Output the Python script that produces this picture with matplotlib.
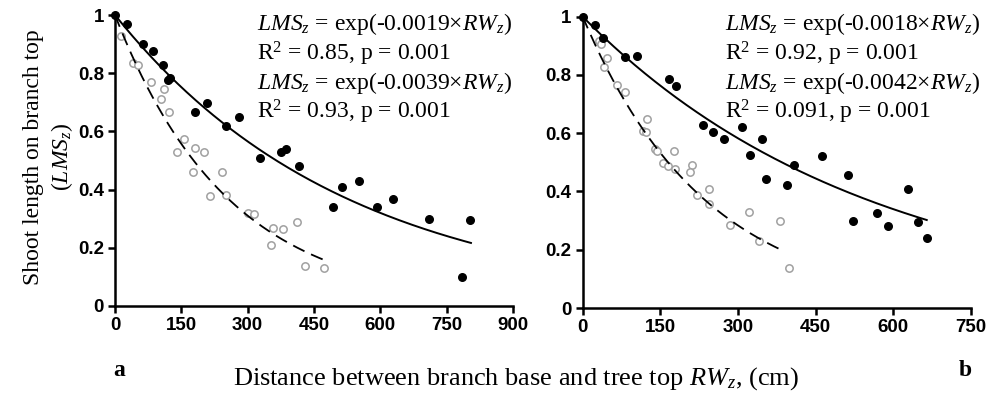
import numpy as np
import matplotlib.pyplot as plt

plt.rcParams['mathtext.fontset'] = 'custom'
plt.rcParams['mathtext.rm'] = 'Liberation Serif'
plt.rcParams['mathtext.it'] = 'Liberation Serif:italic'

# panel a : filled = solid fit, open = dashed fit
a_filled_x = [0, 28, 63, 85, 109, 120, 124, 181, 207, 252, 280, 328, 375, 387, 415,
              492, 513, 551, 593, 629, 709, 803, 784]
a_filled_y = [1.0, 0.968, 0.899, 0.877, 0.828, 0.777, 0.782, 0.668, 0.699, 0.619, 0.648,
              0.507, 0.530, 0.538, 0.481, 0.339, 0.408, 0.430, 0.339, 0.368, 0.298, 0.296, 0.099]
a_open_x = [13, 41, 53, 81, 111, 104, 121, 155, 141, 181, 202, 176, 241, 215, 251,
            301, 314, 357, 381, 352, 412, 429, 473]
a_open_y = [0.928, 0.836, 0.828, 0.771, 0.745, 0.710, 0.668, 0.573, 0.530, 0.542, 0.530,
            0.459, 0.459, 0.378, 0.382, 0.320, 0.317, 0.269, 0.265, 0.208, 0.290, 0.139, 0.129]

# panel b
b_filled_x = [0, 24, 39, 82, 105, 166, 180, 233, 251, 273, 308, 324, 346, 354, 408,
              394, 462, 512, 523, 568, 591, 628, 648, 665]
b_filled_y = [1.0, 0.970, 0.927, 0.860, 0.864, 0.787, 0.763, 0.629, 0.604, 0.580, 0.620,
              0.524, 0.580, 0.443, 0.490, 0.423, 0.523, 0.455, 0.300, 0.326, 0.280, 0.409,
              0.294, 0.240]
b_open_x = [32, 35, 46, 41, 66, 82, 125, 117, 122, 140, 144, 177, 156, 164, 178, 211,
            207, 220, 244, 244, 285, 322, 341, 381, 398]
b_open_y = [0.915, 0.908, 0.858, 0.829, 0.767, 0.740, 0.650, 0.609, 0.605, 0.546, 0.540,
            0.538, 0.498, 0.486, 0.477, 0.490, 0.467, 0.389, 0.408, 0.358, 0.286, 0.328,
            0.229, 0.300, 0.137]

# fitted coefficients (LMSz = exp(k * RWz)) and the x range each fit is drawn over
a_k = [-0.0019, -0.0039]
b_k = [-0.0018, -0.0042]
a_fit_end = [805, 480]
b_fit_end = [665, 385]

a_text = [r'$LMS_z$ = exp(-0.0019×$RW_z$)', r'R$^2$ = 0.85, p = 0.001',
          r'$LMS_z$ = exp(-0.0039×$RW_z$)', r'R$^2$ = 0.93, p = 0.001']
b_text = [r'$LMS_z$ = exp(-0.0018×$RW_z$)', r'R$^2$ = 0.92, p = 0.001',
          r'$LMS_z$ = exp(-0.0042×$RW_z$)', r'R$^2$ = 0.091, p = 0.001']

tick_font = dict(family='Liberation Sans', weight='bold', size=13)
serif = 'Liberation Serif'

fig = plt.figure(figsize=(9.88, 3.98), dpi=100)
ax1 = fig.add_axes([0.1164, 0.2312, 0.4028, 0.7311])
ax2 = fig.add_axes([0.5898, 0.2261, 0.3927, 0.7319])


def draw_panel(ax, fx, fy, ox, oy, ks, ends, xmax, texts, tx):
    ax.scatter(ox, oy, s=28, facecolor='white', edgecolor='#a0a0a0', lw=1.1,
               zorder=3, clip_on=False)
    ax.scatter(fx, fy, s=30, color='black', zorder=4, clip_on=False)
    xs = np.linspace(0, ends[0], 200)
    ax.plot(xs, np.exp(ks[0] * xs), color='black', lw=1.4, zorder=5)
    xs = np.linspace(0, ends[1], 200)
    ax.plot(xs, np.exp(ks[1] * xs), color='black', lw=1.3, dashes=(7, 4), zorder=5)
    ax.set_xlim(0, xmax)
    ax.set_ylim(0, 1)
    ax.set_xticks(np.arange(0, xmax + 1, 150))
    ax.set_yticks([0, 0.2, 0.4, 0.6, 0.8, 1])
    ax.set_yticklabels(['0', '0.2', '0.4', '0.6', '0.8', '1'])
    for s in ['top', 'right']:
        ax.spines[s].set_visible(False)
    for s in ['left', 'bottom']:
        ax.spines[s].set_linewidth(1.8)
    ax.tick_params(direction='out', length=5, width=1.8, pad=3)
    for lab in ax.get_xticklabels() + ax.get_yticklabels():
        lab.set_fontproperties(tick_font)
        lab.set_fontsize(13.5)
    ys = [24, 54, 83, 112]
    for t, y in zip(texts, ys):
        fig.text(tx / 988, 1 - y / 398, t, fontsize=17, family=serif,
                 va='center', ha='left')


draw_panel(ax1, a_filled_x, a_filled_y, a_open_x, a_open_y, a_k, a_fit_end, 900, a_text, 257)
draw_panel(ax2, b_filled_x, b_filled_y, b_open_x, b_open_y, b_k, b_fit_end, 750, b_text, 725)

fig.text(33 / 988, 1 - 157 / 398, 'Shoot length on branch top', rotation=90,
         fontsize=17, family=serif, ha='center', va='center')
fig.text(62 / 988, 1 - 157 / 398, r'($LMS_z$)', rotation=90,
         fontsize=17, family=serif, ha='center', va='center')
fig.text(516 / 988, 1 - 379 / 398, r'Distance between branch base and tree top $RW_z$, (cm)',
         fontsize=19, family=serif, ha='center', va='center')
fig.text(119 / 988, 1 - 371 / 398, 'a', fontsize=17, family=serif, weight='bold',
         ha='center', va='center')
fig.text(965 / 988, 1 - 371 / 398, 'b', fontsize=17, family=serif, weight='bold',
         ha='center', va='center')

fig.savefig('out.png', dpi=100)
